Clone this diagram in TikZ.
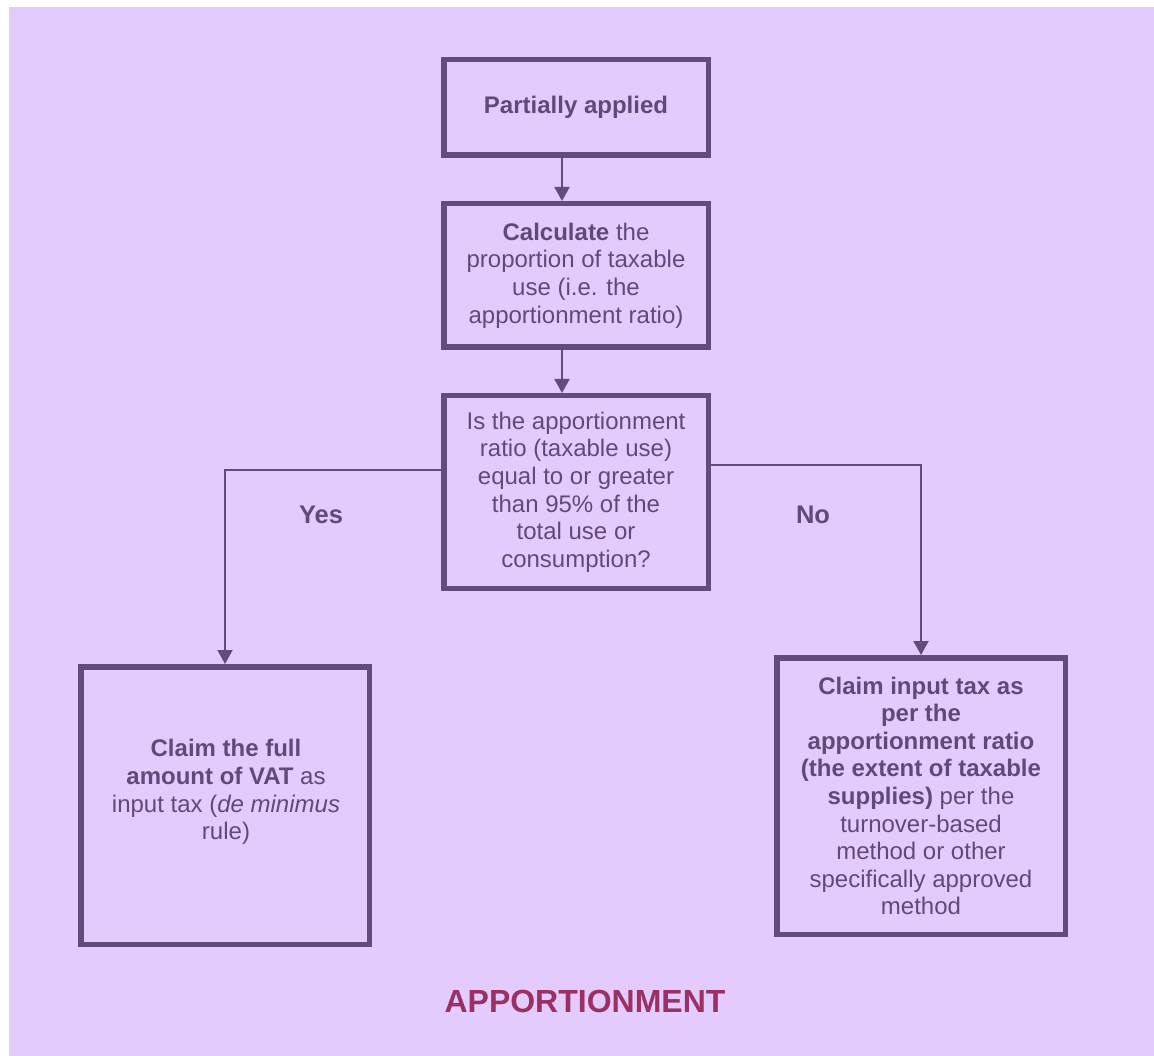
\documentclass[tikz,border=0pt]{standalone}
\usepackage{fontspec}
\setmainfont{Liberation Sans}
\usetikzlibrary{arrows.meta}
\definecolor{bgc}{HTML}{E3CCFD}
\definecolor{edgec}{HTML}{634C7C}
\definecolor{txtc}{HTML}{5F4A78}
\definecolor{titlec}{HTML}{9B3063}
\tikzset{
  flowbox/.style={draw=edgec, line width=5.5pt, inner sep=0pt, align=center,
    text=txtc, font=\fontsize{24}{27.6}\selectfont},
  boxtext/.style={inner sep=0pt, align=center, text=txtc, font=\fontsize{24}{27.6}\selectfont},
  conn/.style={draw=edgec, line width=2pt, -{Triangle[width=15pt,length=14pt]}},
  branch/.style={text=txtc, font=\fontsize{25.5}{28}\selectfont\bfseries, inner sep=0pt},
  titletext/.style={text=titlec, font=\fontsize{32}{36}\selectfont\bfseries, inner sep=0pt}
}
\begin{document}
\begin{tikzpicture}[x=1pt,y=-1pt]
\useasboundingbox (0,0) rectangle (1154,1056);
\fill[white] (0,0) rectangle (1154,1056);
\fill[bgc] (9,7) rectangle (1154,1056);

\node[flowbox, minimum width=264.5pt, minimum height=95.5pt] (box1) at (576,107.5)
  {\textbf{Partially applied}};
\node[flowbox, minimum width=264.5pt, minimum height=143.5pt] (box2) at (576,275.5)
  {\textbf{Calculate} the\\proportion of taxable\\use (i.e. the\\apportionment ratio)};
\node[flowbox, minimum width=264.5pt, minimum height=192.5pt] (box3) at (576,492)
  {Is the apportionment\\ratio (taxable use)\\equal to or greater\\than 95\% of the\\total use or\\consumption?};
\node[flowbox, minimum width=288.5pt, minimum height=277.5pt] (lbox) at (225,805.5) {};
\node[boxtext] (ltext) at (226,792)
  {\textbf{Claim the full}\\\textbf{amount of VAT} as\\input tax (\textit{de minimus}\\rule)};
\node[flowbox, minimum width=288.5pt, minimum height=276.5pt] (rbox) at (921,796)
  {\textbf{Claim input tax as}\\\textbf{per the}\\\textbf{apportionment ratio}\\\textbf{(the extent of taxable}\\\textbf{supplies)} per the\\turnover-based\\method or other\\specifically approved\\method};

\coordinate (c1) at (562,0);
\draw[conn] (box1.south -| c1) -- (box2.north -| c1);
\draw[conn] (box2.south -| c1) -- (box3.north -| c1);

\coordinate (yesL) at (225,470);
\draw[conn] (box3.west |- yesL) -- (yesL) -- (lbox.north);
\coordinate (noR) at (921,465);
\draw[conn] (box3.east |- noR) -- (noR) -- (rbox.north);

\node[branch] (yes) at (321,515) {Yes};
\node[branch] (no) at (813,515) {No};

\node[titletext] (title) at (585,1001) {APPORTIONMENT};
\end{tikzpicture}
\end{document}
